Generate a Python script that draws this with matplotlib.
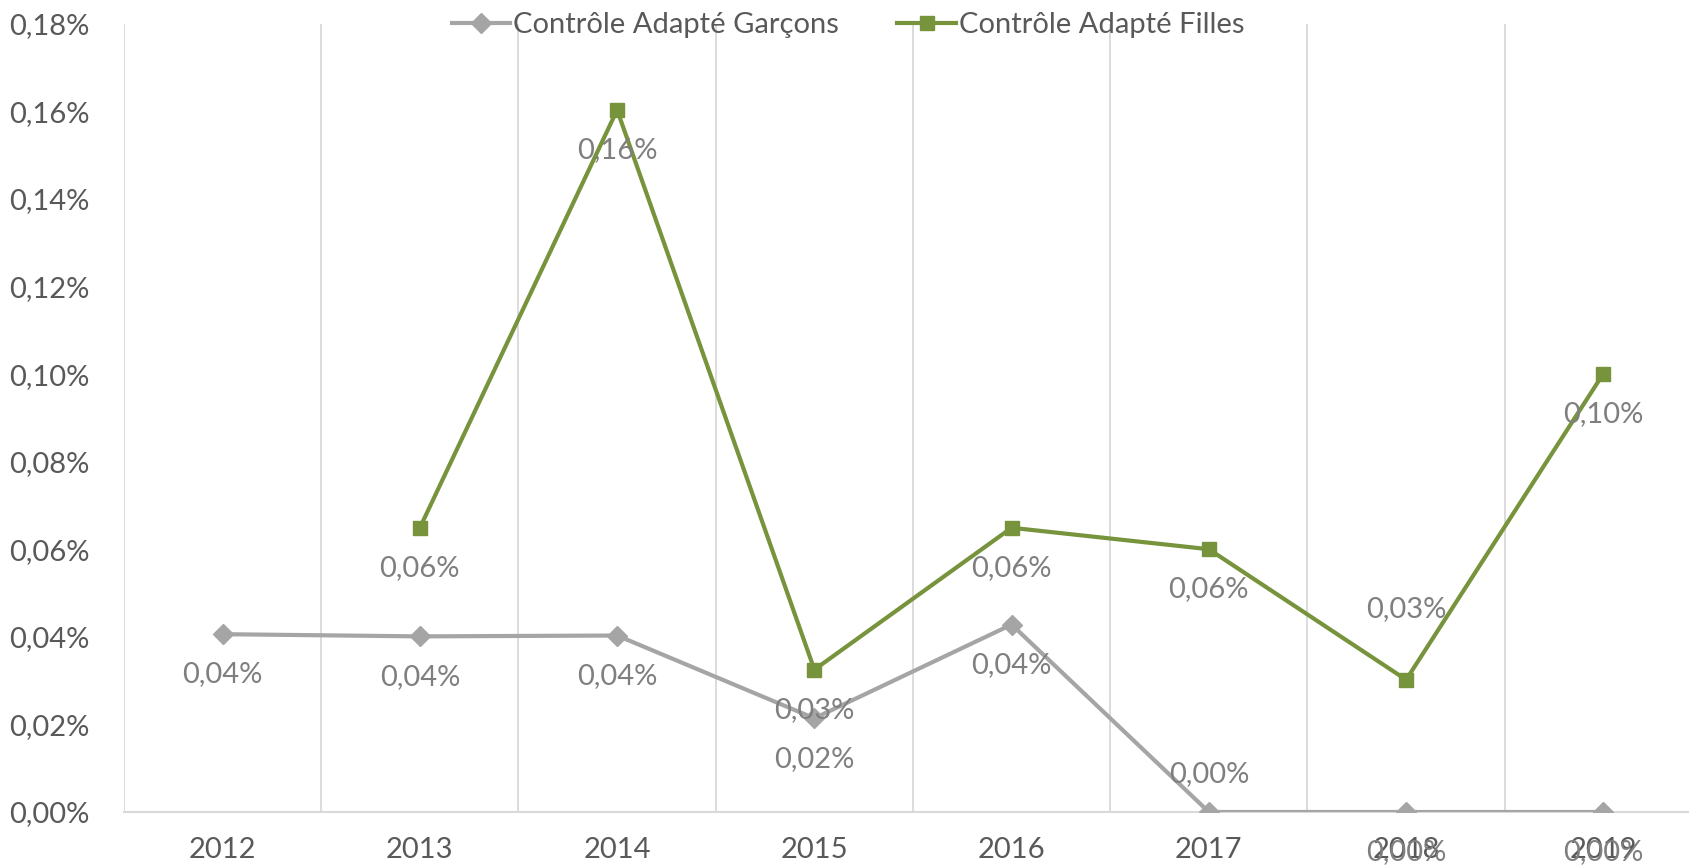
import matplotlib
matplotlib.use("Agg")
import matplotlib.pyplot as plt
from matplotlib.ticker import FuncFormatter, MultipleLocator

plt.rcParams['font.family'] = ['Lato', 'DejaVu Sans']

years = ['2012', '2013', '2014', '2015', '2016', '2017', '2018', '2019']
garcons = [0.0406, 0.0401, 0.0403, 0.0214, 0.0428, 0.0, 0.0, 0.0]
filles = [None, 0.0649, 0.1603, 0.0325, 0.0649, 0.0600, 0.0302, 0.1001]
name_g = 'Contrôle Adapté Garçons'
name_f = 'Contrôle Adapté Filles'

# label placement (layout only): vertical offset in points
off_g = [-29, -29, -29, -29, -29, 27, -29, -29]
off_f = [None, -29, -29, -29, -29, -29, 51, -29]

C_G = '#A5A5A5'
C_F = '#77933C'
C_TXT = '#595959'
C_LBL = '#7F7F7F'
FS = 21

fig = plt.figure(figsize=(16.89, 8.67), dpi=100)
ax = fig.add_axes([124/1689, 1-812/867, (1702-124)/1689, (812-23.7)/867])

x = list(range(len(years)))
ax.plot(x, garcons, color=C_G, lw=3, marker='D', ms=10, label=name_g, zorder=3)
xf = [i for i, v in zip(x, filles) if v is not None]
yf = [v for v in filles if v is not None]
ax.plot(xf, yf, color=C_F, lw=3, marker='s', ms=10, label=name_f, zorder=4)

def fmt(v, decimals=2):
    return f"{v:.{decimals}f}".replace('.', ',') + '%'

for i, v in enumerate(garcons):
    ax.annotate(fmt(v), (i, v), xytext=(0, off_g[i]), textcoords='offset points',
                ha='center', va='center', color=C_LBL, fontsize=FS, zorder=5)
for i, v in enumerate(filles):
    if v is None:
        continue
    ax.annotate(fmt(v), (i, v), xytext=(0, off_f[i]), textcoords='offset points',
                ha='center', va='center', color=C_LBL, fontsize=FS, zorder=5)

ax.set_xlim(-0.5, len(years) - 0.5)
ax.set_ylim(0, 0.18)
ax.yaxis.set_major_locator(MultipleLocator(0.02))
ax.yaxis.set_major_formatter(FuncFormatter(lambda v, p: fmt(v)))
ax.set_xticks(x)
ax.set_xticklabels(years)
ax.set_xticks([i + 0.5 for i in range(-1, len(years))], minor=True)
ax.grid(True, which='minor', axis='x', color='#D9D9D9', lw=1.3)
ax.tick_params(axis='x', which='both', length=0, pad=18, labelsize=FS, labelcolor=C_TXT)
ax.tick_params(axis='y', length=0, pad=25, labelsize=FS, labelcolor=C_TXT)
for s in ['top', 'right', 'left']:
    ax.spines[s].set_visible(False)
ax.spines['bottom'].set_color('#D9D9D9')
ax.spines['bottom'].set_linewidth(1.5)

leg = fig.legend(loc='center', bbox_to_anchor=(848/1689, 1-25/867), ncol=2, frameon=False,
                 fontsize=FS, handlelength=2.0, columnspacing=2.0, handletextpad=0.1,
                 labelcolor=C_TXT)

fig.savefig('out.png', dpi=100)
